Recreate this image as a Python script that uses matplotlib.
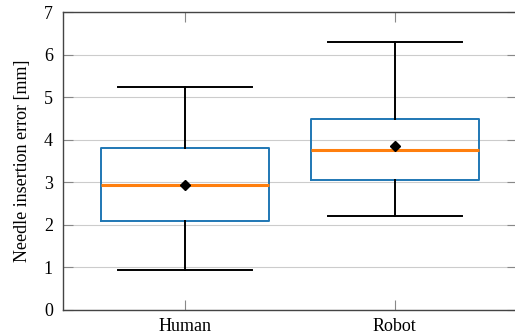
#!/usr/bin/env python3
import matplotlib
matplotlib.use("Agg")
import matplotlib.pyplot as plt

categories = ["Human", "Robot"]
whisker_low = [0.92, 2.21]
q1 = [2.09, 3.04]
median = [2.93, 3.75]
mean = [2.93, 3.84]
q3 = [3.79, 4.48]
whisker_high = [5.24, 6.30]

plt.rcParams.update({
    "font.family": ["Liberation Serif", "DejaVu Serif"],
    "font.size": 13,
    "mathtext.fontset": "stix",
})

fig = plt.figure(figsize=(5.15, 3.36), dpi=100)
# right spine sits just past the image edge, as in the reference crop
ax = fig.add_axes([62.7 / 515, (336 - 309.5) / 336, (517 - 62.7) / 515, (309.5 - 12) / 336])

stats = []
for i, name in enumerate(categories):
    stats.append({
        "label": name,
        "whislo": whisker_low[i],
        "q1": q1[i],
        "med": median[i],
        "mean": mean[i],
        "q3": q3[i],
        "whishi": whisker_high[i],
        "fliers": [],
    })

ax.bxp(
    stats,
    positions=[1, 2],
    widths=0.8,
    showmeans=True,
    boxprops=dict(color="#1f77b4", lw=1.4),
    medianprops=dict(color="#ff7f0e", lw=2.2),
    whiskerprops=dict(color="black", lw=1.4),
    capprops=dict(color="black", lw=1.4),
    meanprops=dict(marker="D", markerfacecolor="black", markeredgecolor="black", markersize=5),
    capwidths=0.64,
    zorder=3,
)

ax.set_xlim(0.418, 2.582)
ax.set_ylim(0, 7)
ax.set_yticks(range(0, 8))
ax.set_xticks([1, 2])
ax.set_xticklabels(categories)
ax.set_ylabel("Needle insertion error [mm]", labelpad=9)

ax.yaxis.grid(True, color="#cccccc", lw=0.8)
ax.set_axisbelow(True)
for spine in ax.spines.values():
    spine.set_color("#444444")
    spine.set_linewidth(1.0)
ax.tick_params(direction="in", top=True, right=True, length=7, width=0.8, color="#888888")
ax.tick_params(axis="y", pad=7)
ax.tick_params(axis="x", pad=6)

fig.savefig("out.png", dpi=100)
